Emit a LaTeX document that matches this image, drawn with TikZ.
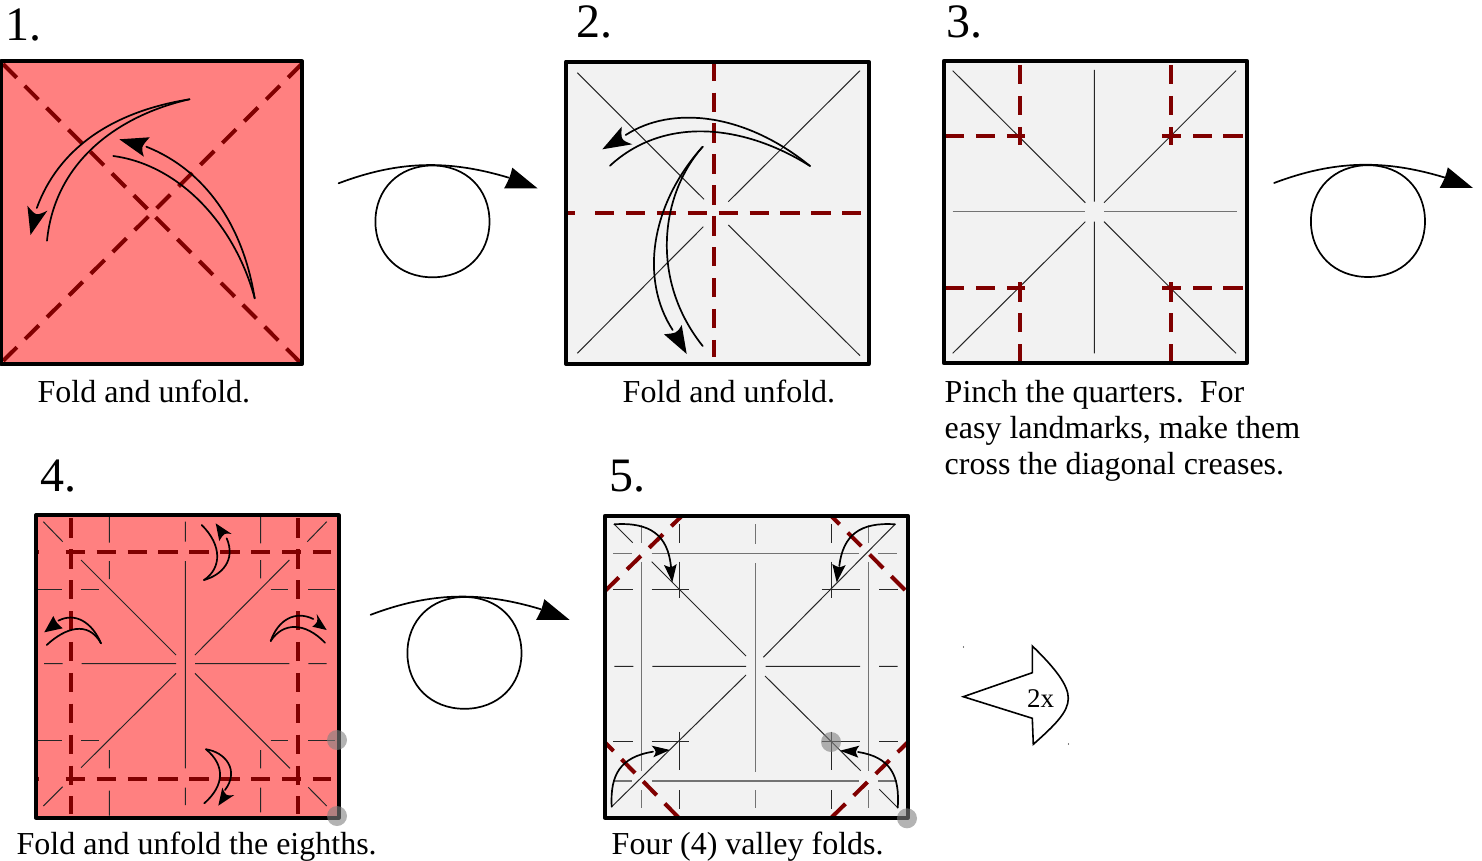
\documentclass[tikz,border=0pt]{standalone}
\usepackage{fontspec}
\setmainfont{Liberation Serif}
\definecolor{paper}{HTML}{FF8080}
\definecolor{whitep}{HTML}{F2F2F2}
\definecolor{foldc}{HTML}{800000}
\tikzset{
  sheet/.style={draw=black,line width=4pt,line join=round},
  crease/.style={draw=black!85,line width=1pt},
  greycrease/.style={draw=black!55,line width=1.2pt},
  valley/.style={draw=foldc,line width=4pt,dash pattern=on 19.3pt off 11.6pt},
  curve/.style={draw=black,line width=1.7pt,line cap=round},
  ptr/.style={fill=black},
  graydot/.style={fill=black!50,opacity=.6},
  captxt/.style={anchor=base west,inner sep=0pt,font=\fontsize{32}{36}\selectfont,align=left},
  numtxt/.style={anchor=base west,inner sep=0pt,font=\fontsize{48}{52}\selectfont},
}
\newcommand\ahd[4]{\fill[ptr] #1 -- #2 .. controls #3 .. #4 -- cycle;}
\newcommand\turnover[2]{%
  \begin{scope}[shift={(#1,#2)}]
    \draw[curve] (338.6,183.3) .. controls (400,160) and (450,160) .. (508.8,177.7);
    \ahd{(537.5,188.3)}{(512.3,167.7)}{(510,177)}{(504.2,188.3)}
    \draw[curve] (432.5,165.5) .. controls (466,165.5) and (489.5,189) .. (489.5,221.7)
      .. controls (489.5,254) and (466,277.3) .. (432.5,277.3)
      .. controls (399,277.3) and (375.4,254) .. (375.4,221.7)
      .. controls (375.4,189) and (399,165.5) .. (432.5,165.5);
  \end{scope}}
\begin{document}
\begin{tikzpicture}[x=1pt,y=-1pt]
\useasboundingbox (0,0) rectangle (1482,861);
% ---------- step 1
\path[fill=paper] (1,61.5) rectangle (302,364);
\draw[valley,dash phase=0pt] (3,64) -- (301.8,364);
\draw[valley] (301.8,64) -- (0,364);
\draw[sheet] (1,61.5) rectangle (302,364);
\draw[curve] (189.5,99.3) .. controls (110,112) and (58,150) .. (36.8,208);
\draw[curve] (189.5,99.3) .. controls (120,115) and (55,160) .. (47,240.7);
\ahd{(30.5,235)}{(27.4,205.7)}{(36,216)}{(47.4,210.7)}
\draw[curve] (254.7,298.3) .. controls (243,225) and (205,170) .. (146.3,146.7);
\draw[curve] (254.7,298.3) .. controls (235,225) and (180,165) .. (113.3,156);
\ahd{(119.3,139.3)}{(149.8,137.3)}{(141,147)}{(143.9,156.7)}
\node[numtxt] (n1) at (5.5,41) {1.};
\node[captxt] (c1) at (37.5,402) {Fold and unfold.};
\turnover{0}{0}
% ---------- step 2
\path[fill=whitep] (566,61.7) rectangle (868.7,364);
\draw[crease] (577.3,72.7) -- (704,199.3) (860,70.7) -- (728.3,201.7)
  (703.3,226.7) -- (577.3,353.3) (728.3,225) -- (860,355.7);
\draw[valley] (566,212.7) -- (575,212.7);
\draw[valley] (595,212.7) -- (861,212.7);
\draw[valley] (714.3,61.7) -- (714.3,356.7);
\draw[sheet] (566,61.7) rectangle (868.7,364);
\draw[curve] (810,166) .. controls (745,113) and (672,105) .. (625.7,135);
\draw[curve] (810,166) .. controls (745,125) and (665,115) .. (610,165.7);
\ahd{(602.3,149.3)}{(621.7,126.7)}{(621,140)}{(632.3,144.3)}
\draw[curve] (702.7,146.7) .. controls (650,205) and (640,280) .. (672.7,330);
\draw[curve] (702.7,146.7) .. controls (660,195) and (650,280) .. (702.7,346);
\ahd{(686.7,354)}{(664,334.3)}{(677,333)}{(681.7,325)}
\node[numtxt] (n2) at (576,38) {2.};
\node[captxt] (c2) at (622.5,402) {Fold and unfold.};
% ---------- step 3
\path[fill=whitep] (944,60.7) rectangle (1246.7,363.3);
\draw[crease] (952.7,70.7) -- (1085.3,202.7) (1236,70.7) -- (1104,202.7)
  (1085.3,221.7) -- (952.7,353.3) (1104,221.7) -- (1236,353.3)
  (1094.3,70) -- (1094.3,201.7) (1094.3,221.7) -- (1094.3,353.3);
\draw[greycrease] (952.7,211.7) -- (1085,211.7) (1104,211.7) -- (1236.7,211.7);
\foreach \vx in {1019.7,1171}{
  \draw[valley] (\vx,65) -- (\vx,145.3);
  \draw[valley] (\vx,363.3) -- (\vx,282.3);
}
\foreach \hy in {136.3,287.7}{
  \draw[valley] (945,\hy) -- (1025,\hy);
  \draw[valley] (1242.7,\hy) -- (1161.7,\hy);
}
\draw[sheet] (944,60.7) rectangle (1246.7,363.3);
\node[numtxt] (n3) at (946,38) {3.};
\node[captxt] (c3a) at (944.5,402) {Pinch the quarters.\ \ For};
\node[captxt] (c3b) at (944.5,438) {easy landmarks, make them};
\node[captxt] (c3c) at (944.5,474) {cross the diagonal creases.};
\turnover{935.5}{-0.3}
% ---------- step 4
\path[fill=paper] (36,515.3) rectangle (338.7,817.7);
\draw[crease] (43.3,521.7) -- (62.7,541.7) (326.7,521.7) -- (307.3,541.7)
  (43.3,806) -- (62.7,786.7) (326.7,806) -- (308.3,787.3)
  (81,560) -- (176,655) (289.3,560) -- (195,655)
  (81,767.7) -- (176,673.3) (290,768.3) -- (195,673.3)
  (185.3,561) -- (185.3,768.3)
  (81.7,663.7) -- (176,663.7) (195,663.7) -- (289.3,663.7)
  (44,663.7) -- (62.7,663.7) (308.3,663.7) -- (326.7,663.7)
  (109.3,516.7) -- (109.3,542.7) (109.3,561) -- (109.3,579)
  (109.3,750) -- (109.3,768.3) (109.3,790.7) -- (109.3,815.7)
  (260.7,516.7) -- (260.7,543.3) (260.7,560) -- (260.7,578.3)
  (260.7,750) -- (260.7,768.3) (260.7,787.7) -- (260.7,812.3)
  (185.3,521.7) -- (185.3,541.7) (185.3,787.7) -- (185.3,805);
\foreach \hy in {589,740.3}{
  \draw[crease] (34.3,\hy) -- (61.7,\hy) (81,\hy) -- (99.3,\hy)
    (270.7,\hy) -- (288.3,\hy) (308.3,\hy) -- (335,\hy);
}
\foreach \hy in {551.7,778.7}{
  \draw[valley] (34,\hy) -- (38.5,\hy);
  \draw[valley] (65.7,\hy) -- (331,\hy);
}
\foreach \vx in {70.7,297.7}{
  \draw[valley] (\vx,518.3) -- (\vx,814);
}
\draw[sheet] (36,515.3) rectangle (338.7,817.7);
\draw[curve] (204,580) .. controls (222,575) and (236,560) .. (226.7,538.3);
\draw[curve] (204,580) .. controls (222,568) and (222,545) .. (201.7,525);
\ahd{(215.7,523.3)}{(231.7,534)}{(224,533)}{(219.3,541)}
\draw[curve] (101,643.3) .. controls (92,622) and (75,612) .. (58.3,620.7);
\draw[curve] (101,643.3) .. controls (88,620) and (65,628) .. (46.7,645);
\ahd{(44.3,632.3)}{(53.3,616)}{(56.7,623)}{(62.7,628.3)}
\draw[curve] (270.7,641) .. controls (278,620) and (295,610) .. (313.3,619);
\draw[curve] (270.7,641) .. controls (283,622) and (305,622) .. (325,642.7);
\ahd{(326.7,630)}{(316.7,614)}{(318,622)}{(312.3,626.7)}
\draw[curve] (206,749.3) .. controls (225,752) and (240,770) .. (225,790);
\draw[curve] (206,749.3) .. controls (225,765) and (225,785) .. (204.3,803.3);
\ahd{(218.3,805.7)}{(234.3,795)}{(226,796)}{(222.3,787.7)}
\fill[graydot] (337,740) circle (10);
\fill[graydot] (337,816) circle (10);
\node[numtxt] (n4) at (40.5,491) {4.};
\node[captxt] (c4) at (16.5,854) {Fold and unfold the eighths.};
\turnover{32}{431.5}
% ---------- step 5
\path[fill=whitep] (605,515.7) rectangle (907.7,817.7);
\draw[greycrease] (641.7,525) -- (641.7,543) (641.7,562.3) -- (641.7,770.7) (641.7,790) -- (641.7,808)
  (868.3,525) -- (868.3,543) (868.3,562.3) -- (868.3,770.7) (868.3,790) -- (868.3,808)
  (755.7,524.3) -- (755.7,544.3) (755.7,563.3) -- (755.7,771.7) (755.7,790) -- (755.7,807.7);
\foreach \hy in {553.7,781}{
  \draw[greycrease] (613.3,\hy) -- (631.7,\hy) (651.7,\hy) -- (859.3,\hy) (878.3,\hy) -- (896.7,\hy);
}
\foreach \vx in {679.7,831}{
  \draw[crease] (\vx,524.3) -- (\vx,543.3) (\vx,561.7) -- (\vx,598.3)
    (\vx,731.7) -- (\vx,770) (\vx,790) -- (\vx,809);
}
\foreach \hy in {589.7,741.3}{
  \draw[crease] (613.3,\hy) -- (632.7,\hy) (651.7,\hy) -- (689,\hy)
    (821.7,\hy) -- (860,\hy) (879,\hy) -- (897.7,\hy);
}
\draw[crease] (614.3,666.3) -- (633.3,666.3) (652.3,666.3) -- (746,666.3)
  (765.7,666.3) -- (860,666.3) (879,666.3) -- (897.7,666.3)
  (614.3,524.3) -- (632.7,542.7) (651.7,561.7) -- (746,656)
  (895,524.3) -- (763.3,657.3)
  (611.7,806.7) -- (746,675)
  (765,676) -- (860.7,770.7) (879.3,789.3) -- (897.7,807.7);
\draw[valley] (605,591) -- (681,516.7);
\draw[valley] (905,590) -- (830.7,515.5);
\draw[valley] (678.3,817.3) -- (604.3,741.7);
\draw[valley] (831.7,817.3) -- (907.3,742.7);
\draw[sheet] (605,515.7) rectangle (907.7,817.7);
\draw[curve] (614.3,524.3) .. controls (650,522) and (668,535) .. (671,567);
\ahd{(672.3,582.3)}{(664,565)}{(671,568)}{(676.7,564)}
\draw[curve] (895,524.3) .. controls (860,522) and (843,535) .. (839.3,566);
\ahd{(836.7,582.3)}{(832.3,564)}{(839,568)}{(845.7,565)}
\draw[curve] (611.7,806.7) .. controls (610,775) and (620,757) .. (653,751.7);
\ahd{(670,750)}{(651.7,745.7)}{(656.7,751.7)}{(653.3,757.3)}
\draw[curve] (897.7,807.7) .. controls (900,775) and (890,757) .. (858,752);
\ahd{(840,750.7)}{(859.3,745.7)}{(855,751.7)}{(858.3,757.7)}
\fill[graydot] (831,742) circle (10);
\fill[graydot] (907,818.3) circle (10);
\node[numtxt] (n5) at (609.5,491) {5.};
\node[captxt] (c5) at (611.5,854) {Four (4) valley folds.};
% ---------- repeat arrow
\draw[line width=1.6pt,line join=miter] (963.3,696.7) -- (1032.3,672.7) -- (1032.3,646)
  .. controls (1055,668) and (1068.3,685) .. (1068.3,698.3)
  .. controls (1068.3,712) and (1055,725) .. (1033.3,744.3)
  -- (1032.3,718.3) -- cycle;
\node[inner sep=0pt,font=\fontsize{27}{30}\selectfont] (rep) at (1040.7,698.3) {2x};
\fill (963.5,647) circle (.6);
\fill (1068.5,744) circle (.6);
\end{tikzpicture}
\end{document}
